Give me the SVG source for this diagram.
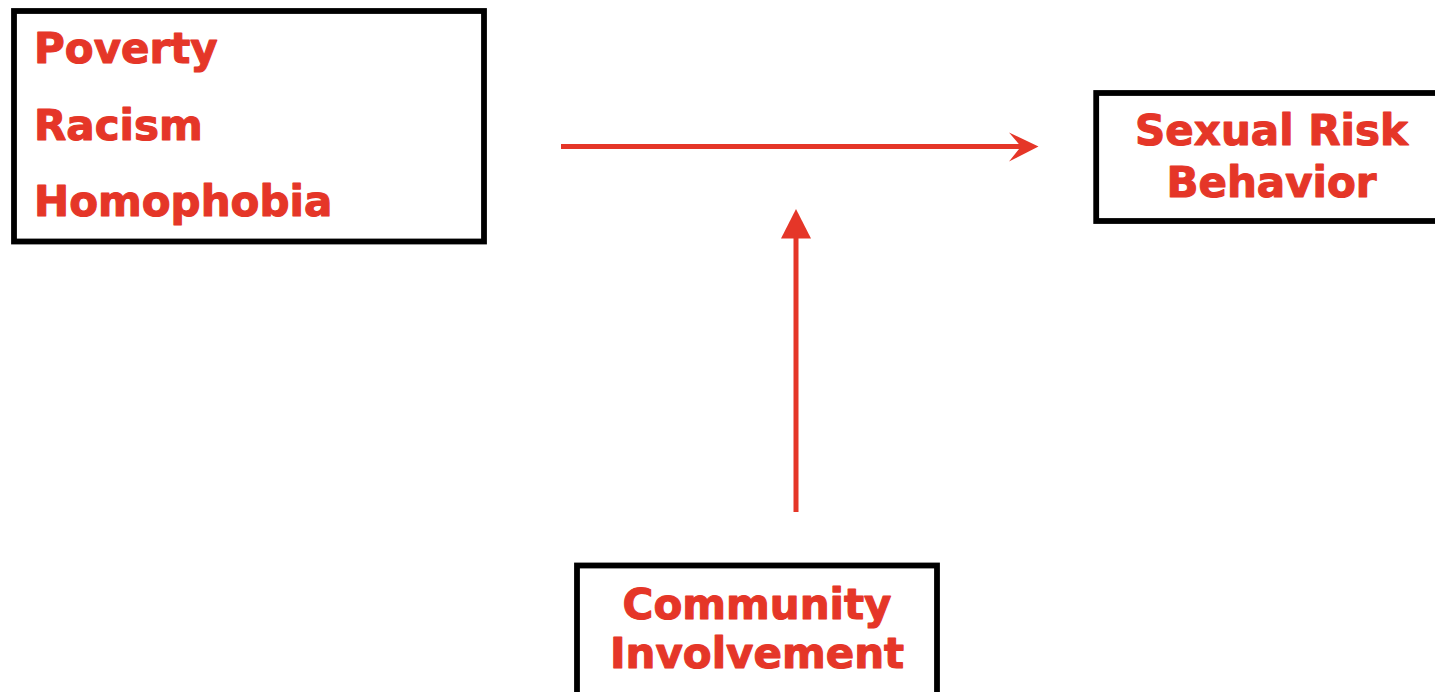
<svg xmlns="http://www.w3.org/2000/svg" width="1435" height="692" viewBox="0 0 1435 692">
<style>
.box{fill:#ffffff;stroke:#000000;stroke-width:5.8}
.t{font-family:"DejaVu Sans","Verdana",sans-serif;font-weight:bold;font-size:42px;fill:#e53628;stroke:#e53628;stroke-width:1.1;stroke-linejoin:round}
.c{stroke:#e53628;stroke-width:5;fill:none}
.h{fill:#e53628;stroke:none}
</style>
<rect width="1435" height="692" fill="#ffffff"/>
<g id="stressors">
<rect class="box" x="14" y="11" width="470" height="230.5"/>
<text class="t" x="34" y="63">Poverty</text>
<text class="t" x="34" y="140">Racism</text>
<text class="t" x="34" y="216">Homophobia</text>
</g>
<g id="sexual-risk">
<rect class="box" x="1096.2" y="93" width="352" height="128"/>
<text class="t" x="1271.5" y="145" text-anchor="middle">Sexual Risk</text>
<text class="t" x="1271.5" y="196.5" text-anchor="middle">Behavior</text>
</g>
<g id="community">
<rect class="box" x="577" y="565.5" width="360" height="140"/>
<text class="t" x="757" y="619" text-anchor="middle">Community</text>
<text class="t" x="757" y="668" text-anchor="middle">Involvement</text>
</g>
<g id="connectors">
<line class="c" x1="561" y1="146.5" x2="1022" y2="146.5"/>
<path class="h" d="M1038.5,146.5 L1009,132.5 L1021,146.5 L1009,161.5 Z"/>
<line class="c" x1="796" y1="512" x2="796" y2="236"/>
<path class="h" d="M796,209 L781,238.5 L811,238.5 Z"/>
</g>
</svg>
